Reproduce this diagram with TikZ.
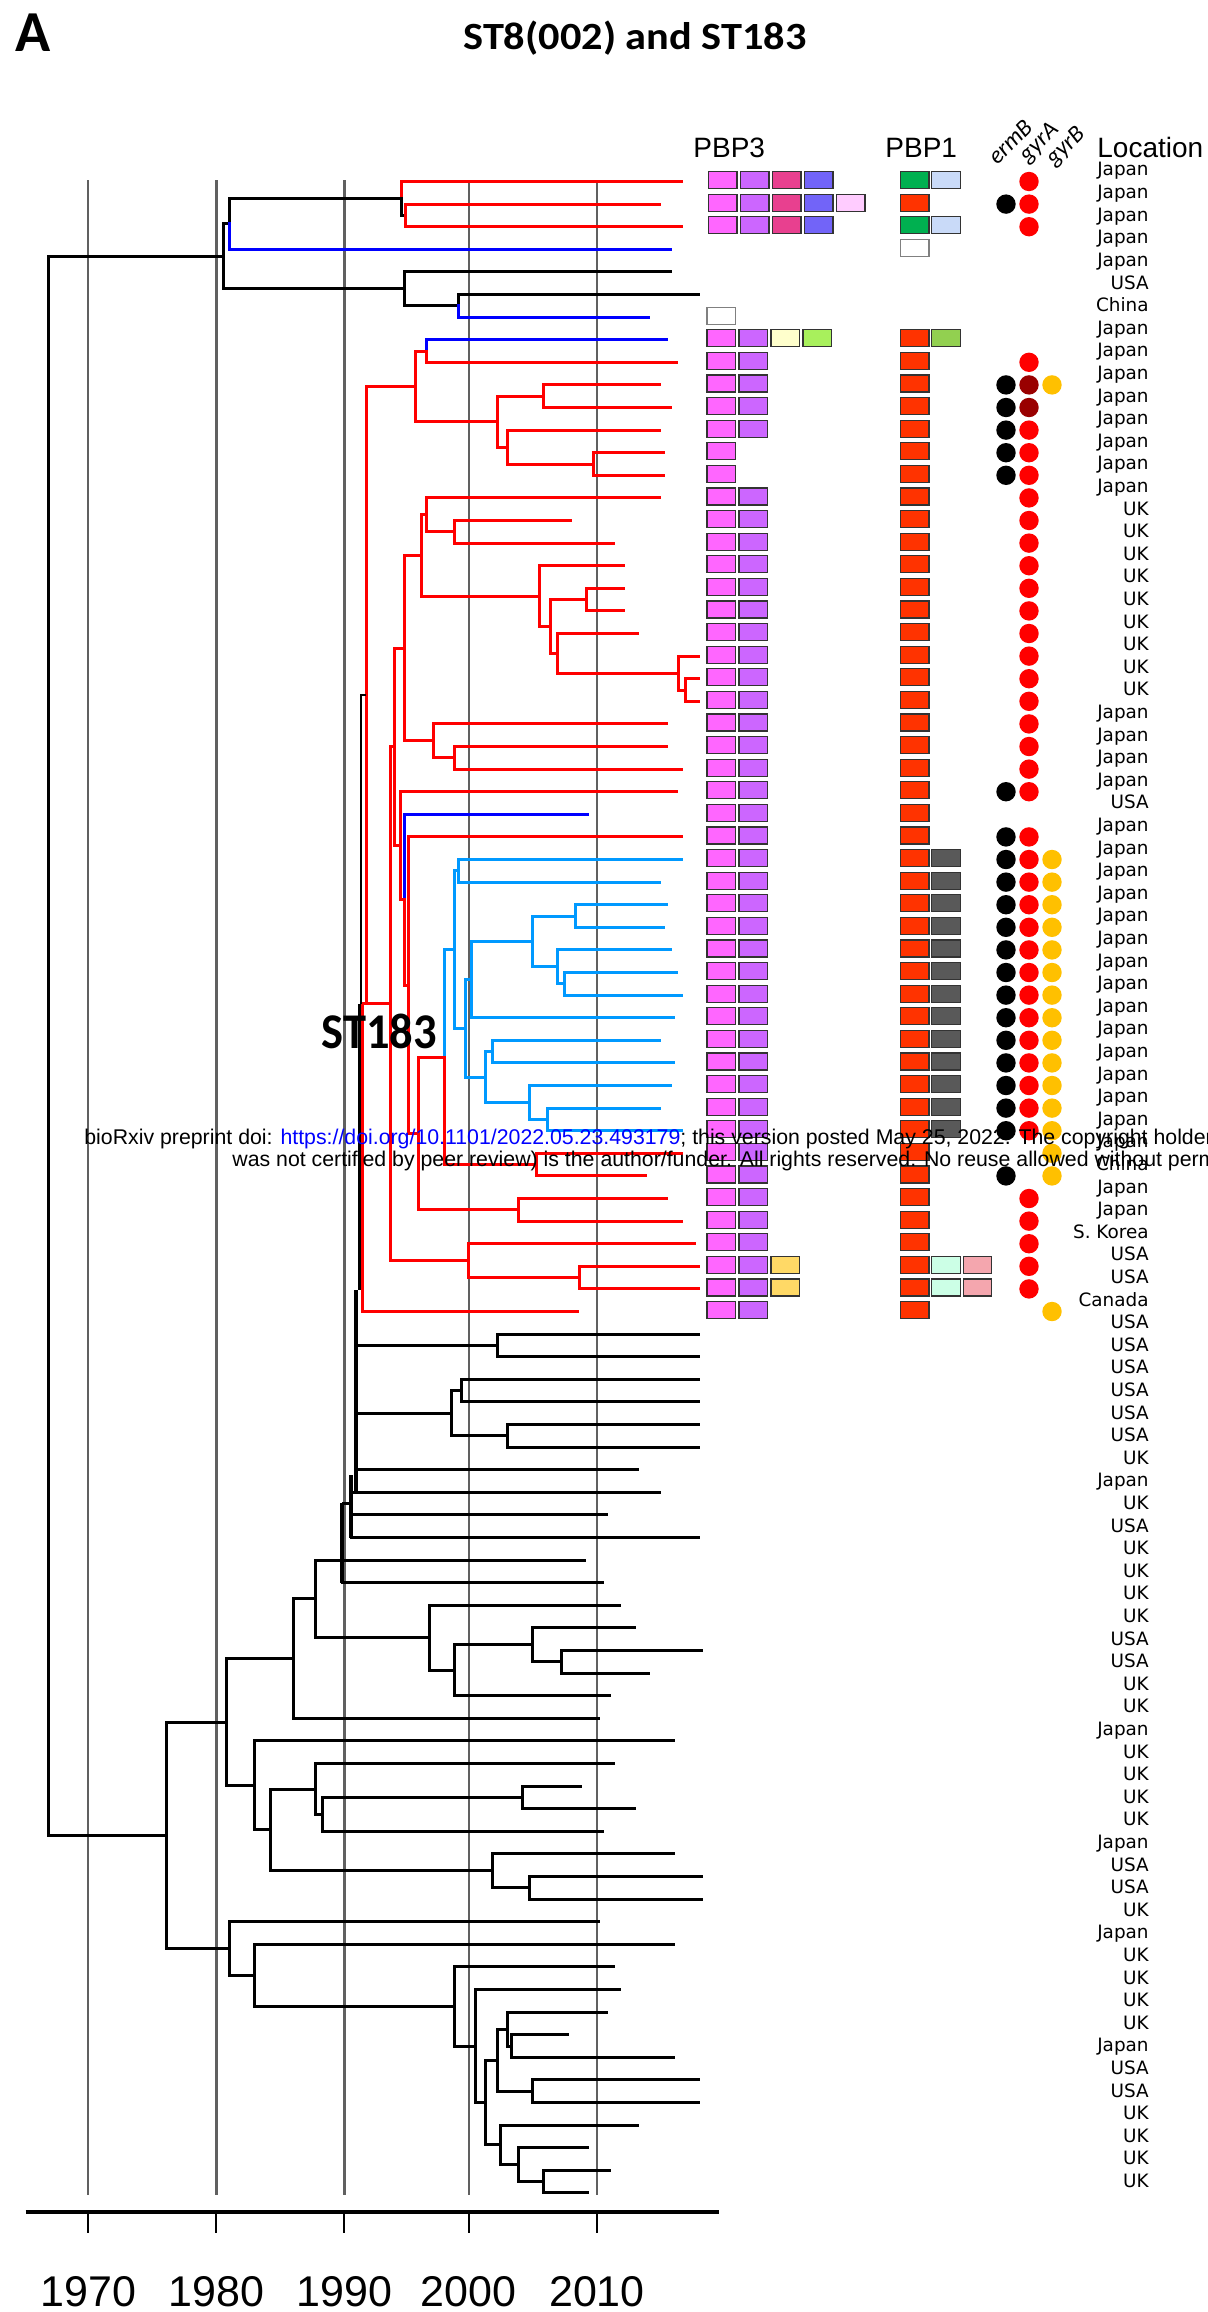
\documentclass[tikz,border=0pt]{standalone}
\usepackage{fontspec}
\setmainfont{Liberation Sans}
\newfontfamily\locfont{DejaVu Sans}
\newfontfamily\calfont{Carlito}
\definecolor{mag}{HTML}{FF66FF}
\definecolor{pur}{HTML}{CC66FF}
\definecolor{pnk}{HTML}{E8408F}
\definecolor{vio}{HTML}{7264F8}
\definecolor{lpk}{HTML}{FFCCFF}
\definecolor{lyl}{HTML}{FFFFCC}
\definecolor{lgr}{HTML}{A8F05C}
\definecolor{yel}{HTML}{FFD966}
\definecolor{grn}{HTML}{00B050}
\definecolor{lbl}{HTML}{C9DAF8}
\definecolor{org}{HTML}{FF3300}
\definecolor{grt}{HTML}{92D050}
\definecolor{dgy}{HTML}{595959}
\definecolor{mnt}{HTML}{CCFFE6}
\definecolor{ros}{HTML}{F4A6AE}
\definecolor{dred}{HTML}{990000}
\definecolor{gold}{HTML}{FFC000}
\definecolor{skyb}{HTML}{0099FF}
\definecolor{gridc}{HTML}{606060}
\pgfmathdeclarefunction{ly}{1}{\pgfmathparse{181.5+22.6*(#1-1)}}
\newcommand\HL[4]{\draw[#1] (#3,#2) -- (#4,#2);}
\newcommand\VL[4]{\draw[#1] (#2,#3) -- (#2,#4);}
\newcommand\LF[4]{\draw[#1] (#3,{ly(#2)}) -- (#4,{ly(#2)});}
\newcommand\PBT[3]{\foreach \bxc [count=\bxi] in {#3} {\draw[bxs, fill=\bxc] ({#2+32*(\bxi-1)},{ly(#1)-10}) rectangle ++(28.5,17);}}
\newcommand\PBO[2]{\foreach \bxc [count=\bxi] in {#2} {\draw[bxs, fill=\bxc] ({900.5+31.3*(\bxi-1)},{ly(#1)-10}) rectangle ++(28.5,17);}}
\newcommand\DT[3]{\fill[#3] (#2,{ly(#1)}) circle[radius=9.7];}
\tikzset{
  tl/.style={line width=1.5pt, line cap=rect},
  kk/.style={tl, black}, rr/.style={tl, red}, bb/.style={tl, blue}, cc/.style={tl, skyb},
  bxs/.style={draw=black!80, line width=0.6pt},
  loc/.style={font=\locfont\fontsize{9.2}{11}\selectfont, anchor=base east, inner sep=0pt},
  hdr/.style={font=\fontsize{14}{16}\selectfont, anchor=base west, inner sep=0pt},
  gene/.style={font=\calfont\itshape\fontsize{12}{14}\selectfont, anchor=base west, inner sep=0pt, rotate=45},
  yr/.style={font=\fontsize{21.5}{24}\selectfont, anchor=base, inner sep=0pt},
  wm/.style={font=\fontsize{10.65}{12}\selectfont, anchor=base west, inner sep=0pt}
}
\begin{document}
\begin{tikzpicture}[x=0.5pt, y=-0.5pt]
\useasboundingbox (0,0) rectangle (1207,2312);
% grid
\foreach \gx in {88.3,216.4,344.4,468.8,597} {
  \draw[gridc, line width=1.1pt] (\gx,180) -- (\gx,2195);
  \draw[black, line width=1pt] (\gx,2212) -- (\gx,2233);
}
\draw[black, line width=1.6pt] (25.5,2212) -- (719,2212);
\node[yr] at (88.3,2306) {1970};
\node[yr] at (216.4,2306) {1980};
\node[yr] at (344.4,2306) {1990};
\node[yr] at (468.8,2306) {2000};
\node[yr] at (597,2306) {2010};
% ---------------- tree ----------------
% root
\VL{kk}{48.2}{256.4}{1835.3}
\HL{kk}{256.4}{48.2}{223.6}
\HL{kk}{1835.3}{48.2}{166.2}
% top clade
\VL{kk}{223.6}{223.9}{288.9}
\HL{kk}{223.9}{223.6}{229.6}
\VL{kk}{229.6}{198.5}{223.9}
\VL{bb}{229.6}{223.9}{249.3}
\LF{bb}{4}{229.6}{670}
\HL{kk}{198.5}{229.6}{401.7}
\VL{rr}{401.7}{181.5}{198.5}
\VL{kk}{401.7}{198.5}{215.4}
\LF{rr}{1}{401.7}{681}
\HL{kk}{215.4}{401.7}{405}
\VL{rr}{405}{204.1}{226.7}
\LF{rr}{2}{405}{659}
\LF{rr}{3}{405}{681}
\HL{kk}{288.9}{223.6}{404}
\VL{kk}{404}{271.9}{305.8}
\LF{kk}{5}{404}{670}
\HL{kk}{305.8}{404}{458.2}
\VL{kk}{458.2}{294.5}{305.8}
\VL{bb}{458.2}{305.8}{317.1}
\LF{kk}{6}{458.2}{698.8}
\LF{bb}{7}{458.2}{648.3}
% ST183 clade
\VL{rr}{366}{386.3}{1003.8}
\HL{rr}{386.3}{366}{415.5}
\VL{rr}{415.5}{351}{421.6}
\HL{rr}{351}{415.5}{426}
\VL{bb}{426}{339.7}{351}
\VL{rr}{426}{351}{362.3}
\LF{bb}{8}{426}{666.7}
\LF{rr}{9}{426}{676.8}
\HL{rr}{421.6}{415.5}{497.2}
\VL{rr}{497.2}{396.2}{447.05}
\HL{rr}{396.2}{497.2}{543.2}
\VL{rr}{543.2}{384.9}{407.5}
\LF{rr}{10}{543.2}{659}
\LF{rr}{11}{543.2}{670}
\HL{rr}{447.05}{497.2}{507.8}
\VL{rr}{507.8}{430.1}{464}
\LF{rr}{12}{507.8}{659}
\HL{rr}{464}{507.8}{593.7}
\VL{rr}{593.7}{452.7}{475.3}
\LF{rr}{13}{593.7}{663}
\LF{rr}{14}{593.7}{663}
% S and R
\HL{rr}{1003.8}{362.7}{390}
\VL{rr}{390}{746.95}{1260.65}
\HL{rr}{746.95}{390}{394}
\VL{rr}{394}{648.2}{845.7}
\HL{rr}{648.2}{394}{404}
\VL{rr}{404}{555.5}{740.85}
\HL{rr}{555.5}{404}{421.5}
\VL{rr}{421.5}{514.85}{596.1}
\HL{rr}{514.85}{421.5}{426}
\VL{rr}{426}{497.9}{531.8}
\LF{rr}{15}{426}{659}
\HL{rr}{531.8}{426}{454.5}
\VL{rr}{454.5}{520.5}{543.1}
\LF{rr}{16}{454.5}{570.7}
\LF{rr}{17}{454.5}{613}
\HL{rr}{596.1}{421.5}{539.5}
\VL{rr}{539.5}{565.7}{626.45}
\LF{rr}{18}{539.5}{623.5}
\HL{rr}{626.45}{539.5}{550.5}
\VL{rr}{550.5}{599.6}{653.3}
\HL{rr}{599.6}{550.5}{586.8}
\HL{rr}{653.3}{550.5}{557.9}
\VL{rr}{586.8}{588.3}{610.9}
\LF{rr}{19}{586.8}{623.5}
\LF{rr}{20}{586.8}{623.5}
\VL{rr}{557.9}{633.5}{673.05}
\LF{rr}{21}{557.9}{637.3}
\HL{rr}{673.05}{557.9}{678.6}
\VL{rr}{678.6}{656.1}{690}
\LF{rr}{22}{678.6}{698.8}
\HL{rr}{690}{678.6}{685.5}
\VL{rr}{685.5}{678.7}{701.3}
\LF{rr}{23}{685.5}{698.8}
\LF{rr}{24}{685.5}{698.8}
\HL{rr}{740.85}{404}{433}
\VL{rr}{433}{723.9}{757.8}
\LF{rr}{25}{433}{666.7}
\HL{rr}{757.8}{433}{454.5}
\VL{rr}{454.5}{746.5}{769.1}
\LF{rr}{26}{454.5}{666.7}
\LF{rr}{27}{454.5}{681}
\HL{rr}{845.7}{394}{400.8}
\VL{rr}{400.8}{791.7}{899.75}
\LF{rr}{28}{400.8}{676.8}
\HL{rr}{899.75}{400.8}{404}
\VL{bb}{404}{814.3}{899.75}
\VL{rr}{404}{899.75}{985.2}
\LF{bb}{29}{404}{587.7}
\HL{rr}{985.2}{404}{408}
\VL{rr}{408}{836.9}{1133.45}
\LF{rr}{30}{408}{681}
\HL{rr}{1133.45}{408}{418.7}
\VL{rr}{418.7}{1057.1}{1209.8}
\HL{rr}{1057.1}{418.7}{444.4}
\HL{rr}{1209.8}{418.7}{518.8}
\VL{cc}{444.4}{949.55}{1057.1}
\VL{rr}{444.4}{1057.1}{1164.6}
\HL{cc}{949.55}{444.4}{454.5}
\HL{rr}{1164.6}{444.4}{536.3}
\VL{rr}{536.3}{1153.3}{1175.9}
\LF{rr}{44}{536.3}{681}
\LF{rr}{45}{536.3}{645}
\VL{rr}{518.8}{1198.5}{1221.1}
\LF{rr}{46}{518.8}{666.7}
\LF{rr}{47}{518.8}{681}
\HL{rr}{1260.65}{390}{468.8}
\VL{rr}{468.8}{1243.7}{1277.6}
\LF{rr}{48}{468.8}{694.7}
\HL{rr}{1277.6}{468.8}{579.4}
\VL{rr}{579.4}{1266.3}{1288.9}
\LF{rr}{49}{579.4}{698.8}
\LF{rr}{50}{579.4}{698.8}
\VL{rr}{362.7}{1003.8}{1311.5}
\LF{rr}{51}{362.7}{577.6}
% light blue clade
\VL{cc}{454.5}{870.8}{1028.3}
\HL{cc}{870.8}{454.5}{458.2}
\HL{cc}{1028.3}{454.5}{465.1}
\VL{cc}{458.2}{859.5}{882.1}
\LF{cc}{31}{458.2}{681}
\LF{cc}{32}{458.2}{659}
\VL{cc}{465.1}{979.55}{1077}
\HL{cc}{979.55}{465.1}{471.5}
\HL{cc}{1077}{465.1}{485.8}
\VL{cc}{471.5}{941.4}{1017.7}
\HL{cc}{941.4}{471.5}{532.6}
\LF{cc}{38}{471.5}{673.6}
\VL{cc}{532.6}{916}{966.85}
\HL{cc}{916}{532.6}{575.3}
\HL{cc}{966.85}{532.6}{557.8}
\VL{cc}{575.3}{904.7}{927.3}
\LF{cc}{33}{575.3}{666.7}
\LF{cc}{34}{575.3}{663}
\VL{cc}{557.8}{949.9}{983.8}
\LF{cc}{35}{557.8}{670}
\HL{cc}{983.8}{557.8}{564.7}
\VL{cc}{564.7}{972.5}{995.1}
\LF{cc}{36}{564.7}{676.8}
\LF{cc}{37}{564.7}{681}
\VL{cc}{485.8}{1051.6}{1102.45}
\HL{cc}{1051.6}{485.8}{492.7}
\HL{cc}{1102.45}{485.8}{529.4}
\VL{cc}{492.7}{1040.3}{1062.9}
\LF{cc}{39}{492.7}{659}
\LF{cc}{40}{492.7}{673.6}
\VL{cc}{529.4}{1085.5}{1119.4}
\LF{cc}{41}{529.4}{670}
\HL{cc}{1119.4}{529.4}{547.8}
\VL{cc}{547.8}{1108.1}{1130.7}
\LF{cc}{42}{547.8}{659}
\LF{cc}{43}{547.8}{681}
% black middle
\draw[black, line width=1.2pt] (361,695) -- (361,1003.8);
\draw[black, line width=1.6pt] (359.5,1003.8) -- (359.5,1290);
\draw[black, line width=2.2pt] (356,1290) -- (356,1492.3);
\draw[black, line width=1.2pt] (360,695) -- (366,695);
\HL{kk}{1345.4}{357}{497.2}
\VL{kk}{497.2}{1334.1}{1356.7}
\LF{kk}{52}{497.2}{698.8}
\LF{kk}{53}{497.2}{698.8}
\HL{kk}{1413.2}{357}{451.3}
\VL{kk}{451.3}{1390.6}{1435.8}
\HL{kk}{1390.6}{451.3}{461.4}
\HL{kk}{1435.8}{451.3}{507.8}
\VL{kk}{461.4}{1379.3}{1401.9}
\LF{kk}{54}{461.4}{698.8}
\LF{kk}{55}{461.4}{698.8}
\VL{kk}{507.8}{1424.5}{1447.1}
\LF{kk}{56}{507.8}{698.8}
\LF{kk}{57}{507.8}{698.8}
\LF{kk}{58}{356}{637.3}
\LF{kk}{59}{353.5}{659}
\draw[black, line width=1.8pt] (351,1475) -- (351,1537.5);
\LF{kk}{60}{351}{606}
\LF{kk}{61}{351}{698.8}
\HL{kk}{1503.3}{343.4}{351}
\draw[black, line width=2.2pt] (342,1503.3) -- (342,1582.7);
\LF{kk}{63}{342}{602.4}
\LF{kk}{62}{315.9}{584.5}
% lower black clade
\VL{kk}{315.9}{1560.1}{1637.8}
\HL{kk}{1637.8}{315.9}{429.3}
\VL{kk}{429.3}{1605.3}{1670.3}
\LF{kk}{64}{429.3}{619.8}
\HL{kk}{1670.3}{429.3}{454.5}
\VL{kk}{454.5}{1644.85}{1695.7}
\HL{kk}{1644.85}{454.5}{532.6}
\LF{kk}{68}{454.5}{609.3}
\VL{kk}{532.6}{1627.9}{1661.8}
\LF{kk}{65}{532.6}{634.5}
\HL{kk}{1661.8}{532.6}{561}
\VL{kk}{561}{1650.5}{1673.1}
\LF{kk}{66}{561}{701.6}
\LF{kk}{67}{561}{648.3}
\HL{kk}{1598.95}{293.8}{315.9}
\VL{kk}{293.8}{1598.95}{1718.3}
\LF{kk}{69}{293.8}{598.3}
\HL{kk}{1658.6}{226.4}{293.8}
\VL{kk}{226.4}{1658.6}{1785.4}
\HL{kk}{1785.4}{226.4}{254.8}
\VL{kk}{254.8}{1740.9}{1829.95}
\LF{kk}{70}{254.8}{673.6}
\HL{kk}{1829.95}{254.8}{270}
\VL{kk}{270}{1789}{1870.9}
\HL{kk}{1789}{270}{315.9}
\HL{kk}{1870.9}{270}{492.7}
\VL{kk}{315.9}{1763.5}{1814.4}
\LF{kk}{71}{315.9}{613}
\HL{kk}{1814.4}{315.9}{322.8}
\VL{kk}{322.8}{1797.4}{1831.3}
\HL{kk}{1797.4}{322.8}{522}
\LF{kk}{74}{322.8}{602.4}
\VL{kk}{522}{1786.1}{1808.7}
\LF{kk}{72}{522}{580.8}
\LF{kk}{73}{522}{634.5}
\VL{kk}{492.7}{1853.9}{1887.8}
\LF{kk}{75}{492.7}{673.6}
\HL{kk}{1887.8}{492.7}{529.4}
\VL{kk}{529.4}{1876.5}{1899.1}
\LF{kk}{76}{529.4}{701.6}
\LF{kk}{77}{529.4}{701.6}
\VL{kk}{166.2}{1722}{1948.55}
\HL{kk}{1722}{166.2}{226.4}
\HL{kk}{1948.55}{166.2}{229.6}
\VL{kk}{229.6}{1921.7}{1975.4}
\LF{kk}{78}{229.6}{598.3}
\HL{kk}{1975.4}{229.6}{254.8}
\VL{kk}{254.8}{1944.3}{2006.45}
\LF{kk}{79}{254.8}{673.6}
\HL{kk}{2006.45}{254.8}{454.5}
\VL{kk}{454.5}{1966.9}{2046}
\LF{kk}{80}{454.5}{613}
\HL{kk}{2046}{454.5}{475.2}
\VL{kk}{475.2}{1989.5}{2102.5}
\LF{kk}{81}{475.2}{619.8}
\HL{kk}{2102.5}{475.2}{485.8}
\VL{kk}{485.8}{2060.1}{2144.9}
\HL{kk}{2060.1}{485.8}{497.2}
\HL{kk}{2144.9}{485.8}{500.5}
\VL{kk}{497.2}{2029.05}{2091.2}
\HL{kk}{2029.05}{497.2}{507.8}
\HL{kk}{2091.2}{497.2}{532.6}
\VL{kk}{507.8}{2012.1}{2046}
\LF{kk}{82}{507.8}{606}
\HL{kk}{2046}{507.8}{511}
\VL{kk}{511}{2034.7}{2057.3}
\LF{kk}{83}{511}{567}
\LF{kk}{84}{511}{673.6}
\VL{kk}{532.6}{2079.9}{2102.5}
\LF{kk}{85}{532.6}{698.8}
\LF{kk}{86}{532.6}{698.8}
\VL{kk}{500.5}{2125.1}{2164.65}
\LF{kk}{87}{500.5}{637.3}
\HL{kk}{2164.65}{500.5}{518.8}
\VL{kk}{518.8}{2147.7}{2181.6}
\LF{kk}{88}{518.8}{587.7}
\HL{kk}{2181.6}{518.8}{543.2}
\VL{kk}{543.2}{2170.3}{2192.9}
\LF{kk}{89}{543.2}{609.3}
\LF{kk}{90}{543.2}{587.7}
% ---------------- annotations ----------------
\node[hdr] at (693,157) {PBP3};
\node[hdr] at (885,157) {PBP1};
\node[hdr] at (1097,157) {Location};
\node[gene] at (997,166) {ermB};
\node[gene] at (1027.3,163.3) {gyrA};
\node[gene] at (1054.2,166.6) {gyrB};
% PBP3
\PBT{1}{708.5}{mag,pur,pnk,vio}
\PBT{2}{708.5}{mag,pur,pnk,vio,lpk}
\PBT{3}{708.5}{mag,pur,pnk,vio}
\draw[bxs, draw=gray, fill=white] (707,{ly(7)-10}) rectangle ++(28.5,17);
\PBT{8}{707}{mag,pur,lyl,lgr}
\foreach \k in {9,...,12} {\PBT{\k}{707}{mag,pur}}
\foreach \k in {13,14} {\PBT{\k}{707}{mag}}
\foreach \k in {15,...,48} {\PBT{\k}{707}{mag,pur}}
\foreach \k in {49,50} {\PBT{\k}{707}{mag,pur,yel}}
\PBT{51}{707}{mag,pur}
% PBP1
\PBO{1}{grn,lbl}
\PBO{2}{org}
\PBO{3}{grn,lbl}
\draw[bxs, draw=gray, fill=white] (900.5,{ly(4)-10}) rectangle ++(28.5,17);
\PBO{8}{org,grt}
\foreach \k in {9,...,30} {\PBO{\k}{org}}
\foreach \k in {31,...,43} {\PBO{\k}{org,dgy}}
\foreach \k in {44,...,48} {\PBO{\k}{org}}
\foreach \k in {49,50} {\PBO{\k}{org,mnt,ros}}
\PBO{51}{org}
% dots: ermB 1006, gyrA 1029, gyrB 1052
\DT{1}{1029}{red}
\DT{2}{1006}{black}\DT{2}{1029}{red}
\DT{3}{1029}{red}
\DT{9}{1029}{red}
\DT{10}{1006}{black}\DT{10}{1029}{dred}\DT{10}{1052}{gold}
\DT{11}{1006}{black}\DT{11}{1029}{dred}
\foreach \k in {12,13,14} {\DT{\k}{1006}{black}\DT{\k}{1029}{red}}
\foreach \k in {15,...,27} {\DT{\k}{1029}{red}}
\DT{28}{1006}{black}\DT{28}{1029}{red}
\DT{30}{1006}{black}\DT{30}{1029}{red}
\foreach \k in {31,...,43} {\DT{\k}{1006}{black}\DT{\k}{1029}{red}\DT{\k}{1052}{gold}}
\DT{44}{1052}{gold}
\DT{45}{1006}{black}\DT{45}{1052}{gold}
\foreach \k in {46,...,50} {\DT{\k}{1029}{red}}
\DT{51}{1052}{gold}
% locations
\foreach \k/\t in {1/Japan,2/Japan,3/Japan,4/Japan,5/Japan,6/USA,7/China,8/Japan,9/Japan,10/Japan,11/Japan,12/Japan,13/Japan,14/Japan,15/Japan,16/UK,17/UK,18/UK,19/UK,20/UK,21/UK,22/UK,23/UK,24/UK,25/Japan,26/Japan,27/Japan,28/Japan,29/USA,30/Japan,31/Japan,32/Japan,33/Japan,34/Japan,35/Japan,36/Japan,37/Japan,38/Japan,39/Japan,40/Japan,41/Japan,42/Japan,43/Japan,44/Japan,45/China,46/Japan,47/Japan,48/S. Korea,49/USA,50/USA,51/Canada,52/USA,53/USA,54/USA,55/USA,56/USA,57/USA,58/UK,59/Japan,60/UK,61/USA,62/UK,63/UK,64/UK,65/UK,66/USA,67/USA,68/UK,69/UK,70/Japan,71/UK,72/UK,73/UK,74/UK,75/Japan,76/USA,77/USA,78/UK,79/Japan,80/UK,81/UK,82/UK,83/UK,84/Japan,85/USA,86/USA,87/UK,88/UK,89/UK,90/UK}
  {\node[loc] at (1149,{ly(\k)-5.5}) {\t};}
% titles
\node[font=\calfont\bfseries\fontsize{29}{32}\selectfont, anchor=base west, inner sep=0pt] at (15,52) {A};
\node[font=\calfont\bfseries\fontsize{19.25}{22}\selectfont, anchor=base, inner sep=0pt, xscale=1.1] at (635,49.3) {ST8(002) and ST183};
\node[font=\calfont\bfseries\fontsize{25}{28}\selectfont, anchor=base west, inner sep=0pt, xscale=0.93] at (321.4,1048.3) {ST183};
% watermark
\node[wm] at (84,1144) {bioRxiv preprint doi: \textcolor{blue}{https://doi.org/10.1101/2022.05.23.493179}; this version posted May 25, 2022. The copyright holder};
\node[wm] at (232,1166) {was not certified by peer review) is the author/funder. All rights reserved. No reuse allowed without perm};
\end{tikzpicture}
\end{document}
